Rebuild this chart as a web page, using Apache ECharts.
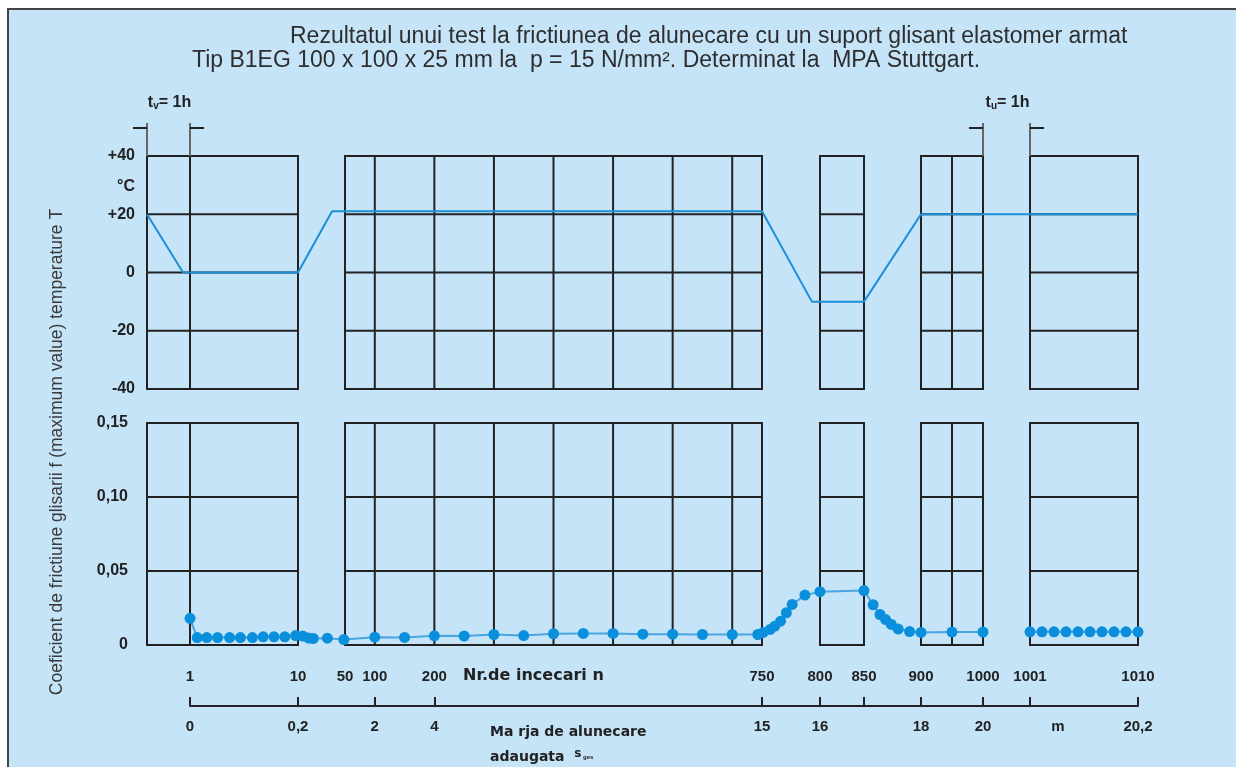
<!DOCTYPE html>
<html><head><meta charset="utf-8">
<script src="https://cdn.jsdelivr.net/npm/echarts@6/dist/echarts.min.js"></script>
<style>html,body{margin:0;padding:0;background:#fff}#c{width:1236px;height:767px}</style>
</head><body><div id="c"></div>
<script>
// ---- texts ----
const TITLE_1 = 'Rezultatul unui test la frictiunea de alunecare cu un suport glisant elastomer armat';
const TITLE_2 = 'Tip B1EG 100 x 100 x 25 mm la  p = 15 N/mm². Determinat la  MPA Stuttgart.';
const Y_TITLE = 'Coeficient de frictiune glisarii f (maximum value) temperature T';
const N_TITLE = 'Nr.de incecari n';

// ---- broken x scale: cycle number n -> axis unit ----
const N_BREAKS = [0, 1, 10, 50, 750, 800, 850, 900, 1000, 1001, 1010];
const U_BREAKS = [0, 43, 151, 198, 615, 673, 717, 774, 836, 883, 991];

// ---- tick labels ----
const N_TICKS = [1, 10, 50, 100, 200, 750, 800, 850, 900, 1000, 1001, 1010];
const N_TICK_LABELS = ['1', '10', '50', '100', '200', '750', '800', '850', '900', '1000', '1001', '1010'];
const AXIS_TICK_N = [1, 10, 100, 200, 750, 800, 850, 900, 1000, 1001, 1010];
const S_TICK_N = [1, 10, 100, 200, 750, 800, 900, 1000, 1010];
const S_TICK_LABELS = ['0', '0,2', '2', '4', '15', '16', '18', '20', '20,2'];

// ---- panels (boxes) given by their vertical lines in n ----
const BOXES = [
  [0, 1, 10],
  [50, 100, 200, 300, 400, 500, 600, 700, 750],
  [800, 850],
  [900, 950, 1000],
  [1001, 1010]
];
const BRACKETS = [[0, 1, 'v'], [1000, 1001, 'u']];

// ---- temperature T (°C) ----
const T_N = [0, 0.84, 10, 39, 750, 793, 850, 900, 1010];
const T_VAL = [20, 0, 0, 21, 21, -10, -10, 20, 20];

// ---- friction coefficient f ----
const F_N = [1, 1.6, 2.4, 3.3, 4.3, 5.2, 6.2, 7.1, 8, 8.9, 9.8,
  14, 19, 23, 35, 49,
  100, 150, 200, 250, 300, 350, 400, 450, 500, 550, 600, 650, 700, 743,
  751, 757, 761, 766, 771, 776, 787, 800, 850,
  858, 864, 869, 874, 880, 890, 900, 950, 1000,
  1000.5,
  1001, 1002, 1003, 1004, 1005, 1006, 1007, 1008, 1009, 1010];
const F_VAL = [0.018, 0.005, 0.005, 0.005, 0.005, 0.005, 0.005, 0.0055, 0.0055, 0.0055, 0.0064,
  0.006, 0.0047, 0.0044, 0.0046, 0.0037,
  0.0053, 0.0051, 0.0062, 0.006, 0.0071, 0.0064, 0.0076, 0.0078, 0.0078, 0.0073, 0.0073, 0.0071, 0.0071, 0.0071,
  0.0085, 0.0105, 0.0127, 0.0161, 0.0218, 0.0274, 0.0337, 0.036, 0.0368,
  0.0272, 0.0206, 0.0172, 0.0139, 0.0108, 0.0091, 0.0085, 0.0087, 0.0087,
  null,
  0.0089, 0.0089, 0.0089, 0.0089, 0.0089, 0.0089, 0.0089, 0.0089, 0.0089, 0.0089];

function toU(n) {
  for (let i = 1; i < N_BREAKS.length; i++) {
    if (n <= N_BREAKS[i]) {
      const a = N_BREAKS[i - 1], b = N_BREAKS[i];
      return U_BREAKS[i - 1] + (n - a) / (b - a) * (U_BREAKS[i] - U_BREAKS[i - 1]);
    }
  }
  return U_BREAKS[U_BREAKS.length - 1];
}
function labelFor(u, ns, labels) {
  for (let i = 0; i < ns.length; i++) if (Math.abs(toU(ns[i]) - u) < 1e-6) return labels[i];
  return '';
}

const FONT = "'Liberation Sans', Arial, sans-serif";
const WIDE = "'DejaVu Sans', 'Liberation Sans', sans-serif";
const INK = '#222';
const BLUE = '#1c8fd8';
const U_MAX = U_BREAKS[U_BREAKS.length - 1];

const chart = echarts.init(document.getElementById('c'), null, { renderer: 'canvas' });

function boxSeries(idx, yLines, yMin, yMax) {
  return {
    type: 'custom', xAxisIndex: idx, yAxisIndex: idx, silent: true, z: 1, clip: false,
    data: BOXES.map(b => [toU(b[0]), yMin]),
    renderItem: (params, api) => {
      const b = BOXES[params.dataIndex];
      const xs = b.map(n => api.coord([toU(n), yMin])[0]);
      const yTop = api.coord([0, yMax])[1], yBot = api.coord([0, yMin])[1];
      const x0 = xs[0], x1 = xs[xs.length - 1];
      const st = { stroke: INK, lineWidth: 2 };
      const ch = [{ type: 'rect', shape: { x: x0, y: yTop, width: x1 - x0, height: yBot - yTop }, style: Object.assign({ fill: 'none' }, st) }];
      xs.slice(1, -1).forEach(x => ch.push({ type: 'line', shape: { x1: x, y1: yTop, x2: x, y2: yBot }, style: st }));
      yLines.forEach(v => {
        const y = api.coord([0, v])[1];
        ch.push({ type: 'line', shape: { x1: x0, y1: y, x2: x1, y2: y }, style: st });
      });
      return { type: 'group', children: ch };
    }
  };
}

const option = {
  animation: false,
  backgroundColor: '#fff',
  textStyle: { fontFamily: FONT },
  graphic: [
    { type: 'rect', z: -10, shape: { x: 8, y: 9, width: 1240, height: 770 }, style: { fill: '#c5e4f8', stroke: '#444', lineWidth: 2 } },
    { type: 'text', x: 290, y: 37, style: { text: TITLE_1, font: "23px " + FONT, fill: '#2e2e2e', verticalAlign: 'middle' } },
    { type: 'text', x: 192, y: 61, style: { text: TITLE_2, font: "23px " + FONT, fill: '#2e2e2e', verticalAlign: 'middle' } },
    { type: 'text', x: 126, y: 187, style: { text: '°C', font: "bold 16px " + FONT, fill: INK, align: 'center', verticalAlign: 'middle' } },
    { type: 'text', x: 57, y: 452, rotation: Math.PI / 2, style: { text: Y_TITLE, font: "17.5px " + FONT, fill: '#3a3a3a', align: 'center', verticalAlign: 'middle' } },
    { type: 'text', x: 463, y: 676, style: { text: N_TITLE, font: "bold 16px " + WIDE, fill: INK, verticalAlign: 'middle' } },
    { type: 'text', x: 1058, y: 727, style: { text: 'm', font: "bold 15px " + FONT, fill: INK, align: 'center', verticalAlign: 'middle' } },
    { type: 'text', x: 490, y: 732, style: { text: 'Ma rja de alunecare', font: "bold 14px " + WIDE, fill: INK, verticalAlign: 'middle' } },
    { type: 'text', x: 490, y: 757, style: {
        text: '{a|adaugata  }{s|s}{g| ges}', verticalAlign: 'middle',
        rich: { a: { font: "bold 14px " + WIDE, fill: INK }, s: { font: "bold 12px " + WIDE, fill: INK, verticalAlign: 'bottom', padding: [0, 0, 6, 0] }, g: { font: "bold 6px " + FONT, fill: INK } } } }
  ],
  grid: [
    { left: 147, width: U_MAX, top: 156, height: 233 },
    { left: 147, width: U_MAX, top: 423, height: 222 },
    { left: 147 + U_BREAKS[1], width: U_MAX - U_BREAKS[1], top: 705, height: 1 }
  ],
  xAxis: [
    { gridIndex: 0, type: 'value', min: 0, max: U_MAX, show: false },
    { gridIndex: 1, type: 'value', min: 0, max: U_MAX, show: false },
    { gridIndex: 2, type: 'value', min: U_BREAKS[1], max: U_MAX, position: 'bottom',
      axisLine: { show: true, onZero: false, lineStyle: { color: INK, width: 2 } },
      axisTick: { show: true, inside: true, length: 9, lineStyle: { color: INK, width: 2 }, customValues: AXIS_TICK_N.map(toU) },
      axisLabel: { customValues: S_TICK_N.map(toU), margin: 13, color: INK, fontWeight: 'bold', fontSize: 15, fontFamily: FONT,
        formatter: v => labelFor(v, S_TICK_N, S_TICK_LABELS) },
      splitLine: { show: false } },
    { gridIndex: 2, type: 'value', min: U_BREAKS[1], max: U_MAX, position: 'top',
      axisLine: { show: false }, axisTick: { show: false },
      axisLabel: { customValues: N_TICKS.map(toU), margin: 21, color: INK, fontWeight: 'bold', fontSize: 15, fontFamily: FONT,
        formatter: v => labelFor(v, N_TICKS, N_TICK_LABELS) },
      splitLine: { show: false } }
  ],
  yAxis: [
    { gridIndex: 0, type: 'value', min: -40, max: 40, interval: 20,
      axisLine: { show: false }, axisTick: { show: false }, splitLine: { show: false },
      axisLabel: { margin: 12, color: INK, fontWeight: 'bold', fontSize: 16, fontFamily: FONT,
        formatter: v => (v > 0 ? '+' + v : String(v)) } },
    { gridIndex: 1, type: 'value', min: 0, max: 0.15, interval: 0.05,
      axisLine: { show: false }, axisTick: { show: false }, splitLine: { show: false },
      axisLabel: { margin: 19, color: INK, fontWeight: 'bold', fontSize: 16, fontFamily: FONT,
        formatter: v => (Math.abs(v) < 1e-9 ? '0' : v.toFixed(2).replace('.', ',')) } },
    { gridIndex: 2, type: 'value', show: false }
  ],
  series: [
    boxSeries(0, [-20, 0, 20], -40, 40),
    boxSeries(1, [0.05, 0.10], 0, 0.15),
    {
      type: 'custom', xAxisIndex: 0, yAxisIndex: 0, silent: true, z: 1, clip: false,
      data: BRACKETS.map(b => [toU(b[0]), 40]),
      renderItem: (params, api) => {
        const b = BRACKETS[params.dataIndex];
        const xa = api.coord([toU(b[0]), 40])[0], xb = api.coord([toU(b[1]), 40])[0];
        const yTop = api.coord([0, 40])[1];
        const g = { stroke: '#666', lineWidth: 2 }, k = { stroke: INK, lineWidth: 2 };
        return { type: 'group', children: [
          { type: 'line', shape: { x1: xa, y1: yTop - 33, x2: xa, y2: yTop }, style: g },
          { type: 'line', shape: { x1: xb, y1: yTop - 33, x2: xb, y2: yTop }, style: g },
          { type: 'line', shape: { x1: xa - 14, y1: yTop - 28, x2: xa, y2: yTop - 28 }, style: k },
          { type: 'line', shape: { x1: xb, y1: yTop - 28, x2: xb + 14, y2: yTop - 28 }, style: k },
          { type: 'text', style: { x: (xa + xb) / 2 + 1, y: yTop - 53, align: 'center', verticalAlign: 'middle',
            text: '{t|t}{s|' + b[2] + '}{t|= 1h}',
            rich: { t: { font: "bold 16px " + FONT, fill: INK }, s: { font: "bold 10px " + FONT, fill: INK, verticalAlign: 'bottom', padding: [7, 0, 0, 0] } } } }
        ] };
      }
    },
    {
      name: 'T', type: 'line', xAxisIndex: 0, yAxisIndex: 0, z: 5, silent: true,
      data: T_N.map((n, i) => [toU(n), T_VAL[i]]),
      symbol: 'none', lineStyle: { color: BLUE, width: 2 }
    },
    {
      name: 'f', type: 'line', xAxisIndex: 1, yAxisIndex: 1, z: 5, silent: true, connectNulls: false,
      data: F_N.map((n, i) => [toU(n), F_VAL[i] == null ? '-' : F_VAL[i]]),
      symbol: 'circle', symbolSize: 11, showAllSymbol: true,
      itemStyle: { color: '#0a8fdc' },
      lineStyle: { color: '#2a95da', width: 2, opacity: 0.8 }
    }
  ]
};
chart.setOption(option);
</script></body></html>
